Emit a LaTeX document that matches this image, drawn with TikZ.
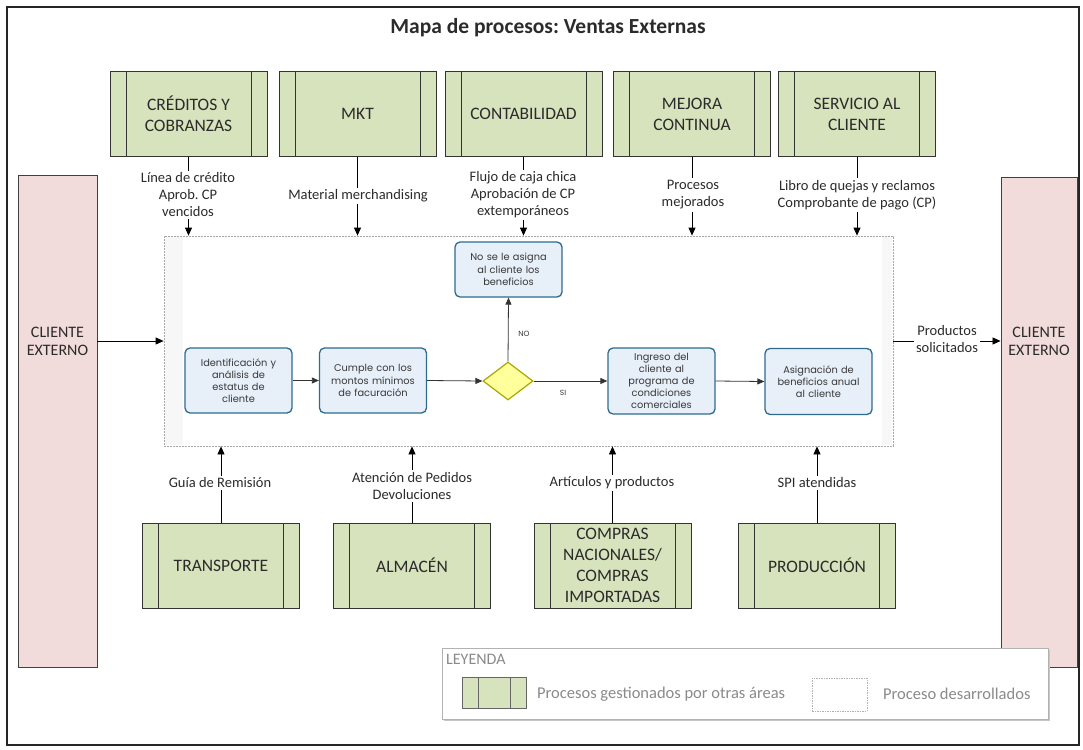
\documentclass[tikz,border=0pt]{standalone}
\usepackage{fontspec}
\setmainfont{Carlito}
\newfontfamily\procfont{Poppins}
\usetikzlibrary{arrows.meta,shapes.geometric}
\frenchspacing

\definecolor{areagreen}{HTML}{D7E3BC}
\definecolor{clientpink}{HTML}{F2DCDB}
\definecolor{procfill}{HTML}{E7EFF9}
\definecolor{procline}{HTML}{2E6B8C}
\definecolor{decfill}{HTML}{FFFF9C}
\definecolor{decline}{HTML}{A8A800}
\definecolor{ink}{HTML}{2B2B2B}
\definecolor{procink}{HTML}{383838}
\definecolor{legendink}{HTML}{8A8A8A}

\tikzset{
  area/.style={draw=black!80, line width=0.9pt, fill=areagreen, inner sep=0pt,
    minimum width=157pt, minimum height=85pt, align=center, text=ink,
    font=\fontsize{17.5}{21}\selectfont,
    path picture={
      \draw[black!80, line width=0.9pt]
        ([xshift=16pt]path picture bounding box.north west) -- ([xshift=16pt]path picture bounding box.south west)
        ([xshift=-16pt]path picture bounding box.north east) -- ([xshift=-16pt]path picture bounding box.south east);
    }},
  client/.style={draw=black!75, line width=0.9pt, fill=clientpink, inner sep=0pt},
  clienttext/.style={align=center, text=ink, font=\fontsize{16}{18}\selectfont, inner sep=0pt},
  flowlabel/.style={align=center, text=ink, font=\fontsize{14.5}{17}\selectfont, inner sep=2pt},
  proc/.style={rounded corners=5pt, draw=procline, line width=1.3pt, fill=procfill,
    minimum width=107pt, minimum height=65pt, text width=104pt, align=center, inner sep=0pt,
    text=procink, font=\procfont\fontsize{9.8}{12.2}\selectfont},
  decision/.style={diamond, aspect=1.32, draw=decline, line width=1.2pt, fill=decfill,
    minimum width=50pt, minimum height=38pt, inner sep=0pt},
  arr/.style={-{Triangle[length=8pt,width=7pt]}, line width=0.8pt, black},
  link/.style={line width=0.8pt, black},
  flowarr/.style={-{Triangle[length=7pt,width=6pt]}, line width=0.8pt, black!80},
  branch/.style={text=procink, font=\procfont\fontsize{7.5}{9}\selectfont, inner sep=1pt}
}

\begin{document}
\begin{tikzpicture}[x=1pt, y=-1pt]
  \useasboundingbox (0,0) rectangle (1083,749);
  \fill[white] (0,0) rectangle (1083,749);

  % outer frame and title
  \draw[black!85, line width=1.2pt] (7,7) rectangle (1079,745);
  \node[font=\bfseries\fontsize{21.5}{25}\selectfont, text=ink] (title) at (548,28) {Mapa de procesos: Ventas Externas};

  % area of the developed process
  \node[draw=gray!70, dash pattern=on 2pt off 1pt, line width=0.8pt, fill=white,
        minimum width=729pt, minimum height=210pt, inner sep=0pt] (frame) at (528.5,341) {};
  \fill[gray!6] (165,237) rectangle (183,445);
  \fill[gray!6] (882,237) rectangle (892,445);

  % supporting areas, top row
  \node[area] (cred) at (188.5,114) {CRÉDITOS Y\\COBRANZAS};
  \node[area] (mkt)  at (357.5,114) {MKT};
  \node[area] (cont) at (523.5,114) {CONTABILIDAD};
  \node[area] (mej)  at (692,114)   {MEJORA\\CONTINUA};
  \node[area] (serv) at (857,114)   {SERVICIO AL\\CLIENTE};

  % supporting areas, bottom row
  \node[area] (trans) at (221,565.5)   {TRANSPORTE};
  \node[area] (alm)   at (412,565.5)   {ALMACÉN};
  \node[area] (comp)  at (612.5,565.5) {COMPRAS\\NACIONALES/\\COMPRAS\\IMPORTADAS};
  \node[area] (prod)  at (817,565.5)   {PRODUCCIÓN};

  % external client, both sides
  \node[client, minimum width=79pt, minimum height=492pt] (cleft) at (57.5,421) {};
  \node[clienttext] (cleftt) at (57.5,341) {CLIENTE\\EXTERNO};
  \node[client, minimum width=76pt, minimum height=490pt] (cright) at (1039,422) {};
  \node[clienttext] (crightt) at (1039,341) {CLIENTE\\EXTERNO};

  % inputs from the top row
  \node[flowlabel] (lcred) at (188,195) {Línea de crédito\\Aprob. CP\\vencidos};
  \node[flowlabel] (lmkt)  at (358,196) {Material merchandising};
  \node[flowlabel] (lcont) at (523,195) {Flujo de caja chica\\Aprobación de CP\\extemporáneos};
  \node[flowlabel] (lmej)  at (693,195) {Procesos\\mejorados};
  \node[flowlabel] (lserv) at (857,195) {Libro de quejas y reclamos\\Comprobante de pago (CP)};

  \foreach \b/\l in {cred/lcred, mkt/lmkt, cont/lcont, mej/lmej, serv/lserv}{
    \draw[link] (\b.south) -- (\b.south |- \l.north);
    \draw[arr] (\b.south |- \l.south) -- (\b.south |- frame.north);
  }

  % inputs from the bottom row
  \node[flowlabel] (ltrans) at (220,483) {Guía de Remisión};
  \node[flowlabel] (lalm)   at (412,486) {Atención de Pedidos\\Devoluciones};
  \node[flowlabel] (lcomp)  at (612,483) {Artículos y productos};
  \node[flowlabel] (lprod)  at (817,483) {SPI atendidas};

  \foreach \b/\l in {trans/ltrans, alm/lalm, comp/lcomp, prod/lprod}{
    \draw[link] (\b.north) -- (\b.north |- \l.south);
    \draw[arr] (\b.north |- \l.north) -- (\b.north |- frame.south);
  }

  % client in and out
  \draw[arr] (cleft.east |- frame.west) -- (frame.west);
  \node[flowlabel] (lout) at (947,339) {Productos\\solicitados};
  \draw[link] (frame.east) -- (lout.west |- frame.east);
  \draw[arr] (lout.east |- frame.east) -- (cright.west |- frame.east);

  % process flow
  \node[proc] (p1) at (238.5,380.5) {Identificación y\\análisis de\\estatus de\\cliente};
  \node[proc] (p2) at (373,380.5) {Cumple con los\\montos mínimos\\de facuración};
  \node[decision] (dec) at (508,381) {};
  \node[proc, minimum height=55pt] (pno) at (508.5,269.5) {No se le asigna\\al cliente los\\beneficios};
  \node[proc, minimum height=66pt] (p3) at (661.5,381) {Ingreso del\\cliente al\\programa de\\condiciones\\comerciales};
  \node[proc, minimum height=66pt] (p4) at (818.5,381.5) {Asignación de\\beneficios anual\\al cliente};

  \draw[flowarr] (p1.east) -- (p2.west);
  \draw[flowarr] (p2.east) -- (dec.west);
  \draw[flowarr] (dec.north) -- (pno.south);
  \draw[flowarr] (dec.east) -- (p3.west);
  \draw[flowarr] (p3.east) -- (p4.west);
  \node[branch] (lno) at (524,334) {NO};
  \node[branch] (lsi) at (563,393) {SI};

  % legend
  \fill[gray!45] (444,650) rectangle (1050,721);
  \node[draw=gray!60, line width=0.8pt, fill=white, minimum width=606pt, minimum height=71pt, inner sep=0pt] (legend) at (745,683.5) {};
  \node[anchor=west, text=legendink, font=\fontsize{16}{18}\selectfont, inner sep=0pt] (legt) at (446,659) {LEYENDA};
  \node[draw=black!60, line width=0.7pt, fill=areagreen, minimum width=64pt, minimum height=31pt, inner sep=0pt,
        path picture={\draw[black!60, line width=0.7pt]
          ([xshift=16pt]path picture bounding box.north west) -- ([xshift=16pt]path picture bounding box.south west)
          ([xshift=-16pt]path picture bounding box.north east) -- ([xshift=-16pt]path picture bounding box.south east);}]
        (legarea) at (494,692.5) {};
  \node[anchor=west, text=legendink, font=\fontsize{16.5}{19}\selectfont, inner sep=0pt] (legareat) at (537,694) {Procesos gestionados por otras áreas};
  \node[draw=gray!60, dash pattern=on 1.5pt off 1pt, line width=0.7pt, minimum width=55pt, minimum height=33pt, inner sep=0pt]
        (legproc) at (839.5,694.5) {};
  \node[anchor=west, text=legendink, font=\fontsize{16.5}{19}\selectfont, inner sep=0pt] (legproct) at (883,694) {Proceso desarrollados};
\end{tikzpicture}
\end{document}
